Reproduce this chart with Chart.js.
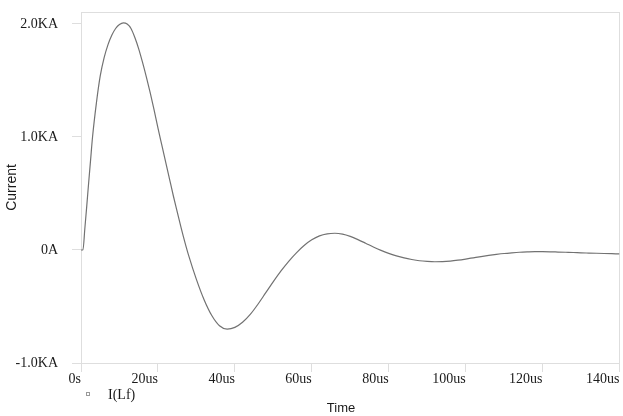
<!DOCTYPE html>
<html>
<head>
<meta charset="utf-8">
<script src="https://cdn.jsdelivr.net/npm/chart.js@4.4.1/dist/chart.umd.min.js"></script>
<style>
  html, body { margin: 0; padding: 0; background: #fff; }
</style>
</head>
<body>
<canvas id="chart" width="623" height="416"></canvas>
<script>
// Time axis (us) and current (KA)
const timeUs = [0, 0.5, 1, 1.5, 2, 2.5, 3,
  4, 5, 6, 7, 8, 9, 10, 11, 12, 13, 14, 15, 16, 17, 18, 19, 20, 21, 22, 23, 24, 25, 26, 27, 28,
  30, 32, 34, 36, 38, 40, 42, 44, 46, 48, 50, 52, 54, 56, 58, 60, 62, 64, 66, 68, 70, 72, 74, 76, 78, 80,
  82, 84, 86, 88, 90, 92, 94, 96, 98, 100, 102, 104, 106, 108, 110, 112, 114, 116, 118, 120,
  122, 124, 126, 128, 130, 132, 134, 136, 138, 140];
const currentKA = [0, 0, 0.19, 0.39, 0.60, 0.80, 1.00,
  1.30, 1.54, 1.70, 1.815, 1.90, 1.96, 1.995, 2.01, 2.00, 1.96, 1.88, 1.78, 1.66, 1.53, 1.39, 1.24, 1.08, 0.93, 0.78, 0.63, 0.48, 0.34, 0.20, 0.07, -0.05,
  -0.26, -0.44, -0.58, -0.67, -0.70, -0.685, -0.64, -0.57, -0.48, -0.38, -0.28, -0.185, -0.10, -0.025, 0.04, 0.09, 0.125, 0.143, 0.148, 0.14, 0.12, 0.092, 0.06, 0.027, -0.003, -0.03,
  -0.052, -0.07, -0.084, -0.095, -0.101, -0.104, -0.103, -0.098, -0.09, -0.08, -0.069, -0.058, -0.048, -0.039, -0.031, -0.025, -0.02, -0.017, -0.015, -0.015,
  -0.016, -0.018, -0.02, -0.022, -0.025, -0.027, -0.029, -0.031, -0.033, -0.035];

const xTicks = [0, 20, 40, 60, 80, 100, 120, 140];
const yTicks = [-1, 0, 1, 2];
const seriesLabel = 'I(Lf)';
const xTitle = 'Time';
const yTitle = 'Current';

const serif = '"Liberation Serif", "Times New Roman", serif';
const sans = '"Liberation Sans", Arial, sans-serif';
const textColor = '#1a1a1a';
const frameColor = '#dedede';

// light frame round the plot area
const framePlugin = {
  id: 'frame',
  beforeDatasetsDraw(chart) {
    const { ctx, chartArea: a } = chart;
    ctx.save();
    ctx.strokeStyle = frameColor;
    ctx.lineWidth = 1;
    ctx.strokeRect(Math.round(a.left) + 0.5, Math.round(a.top) + 0.5,
      Math.round(a.right - a.left) - 1, Math.round(a.bottom - a.top));
    ctx.restore();
  }
};

// small legend under the x tick labels, and the x title below it
const legendPlugin = {
  id: 'smallLegend',
  afterDraw(chart) {
    const { ctx } = chart;
    ctx.save();
    ctx.strokeStyle = '#9a9a9a';
    ctx.lineWidth = 1;
    ctx.strokeRect(86.5, 392.5, 3, 3);
    ctx.fillStyle = textColor;
    ctx.font = '14px ' + serif;
    ctx.textBaseline = 'middle';
    ctx.fillText(chart.data.datasets[0].label, 108, 395);
    ctx.font = '13px ' + sans;
    ctx.textAlign = 'center';
    ctx.fillText(xTitle, 341, 408);
    ctx.restore();
  }
};

// fixed scale sizes so the plot area sits where it does in the original
function fixScale(size) {
  return (s) => {
    if (s.isHorizontal()) s.height = size; else s.width = size;
    s.paddingTop = 0;
    s.paddingBottom = 0;
    s.paddingLeft = 0;
    s.paddingRight = 0;
  };
}

new Chart(document.getElementById('chart'), {
  type: 'line',
  data: {
    datasets: [{
      label: seriesLabel,
      data: timeUs.map((t, i) => ({ x: t, y: currentKA[i] })),
      borderColor: '#727272',
      borderWidth: 1.2,
      pointRadius: 0,
      fill: false,
      cubicInterpolationMode: 'monotone'
    }]
  },
  options: {
    responsive: false,
    animation: false,
    layout: { padding: { top: 12, right: 3.5, left: 0, bottom: 0 } },
    plugins: {
      legend: { display: false },
      tooltip: { enabled: false }
    },
    scales: {
      x: {
        type: 'linear',
        min: 0,
        max: 140,
        afterBuildTicks: (s) => { s.ticks = xTicks.map(v => ({ value: v })); },
        afterFit: fixScale(53),
        grid: { drawOnChartArea: false, color: frameColor, tickLength: 9 },
        border: { display: true, color: frameColor },
        ticks: {
          align: 'end',
          padding: 0,
          color: textColor,
          font: { family: serif, size: 14, lineHeight: 1 },
          maxRotation: 0,
          callback: (v) => v === 0 ? '0s' : v + 'us'
        }
      },
      y: {
        type: 'linear',
        min: -1,
        max: 2.106,
        afterBuildTicks: (s) => { s.ticks = yTicks.map(v => ({ value: v })); },
        afterFit: fixScale(81),
        grid: { drawOnChartArea: false, color: frameColor, tickLength: 9 },
        border: { display: true, color: frameColor },
        ticks: {
          padding: 14,
          color: textColor,
          font: { family: serif, size: 14 },
          callback: (v) => v === 0 ? '0A' : v.toFixed(1) + 'KA'
        },
        title: {
          display: true,
          text: yTitle,
          color: textColor,
          font: { family: sans, size: 14 },
          padding: { top: 4, bottom: 0 }
        }
      }
    }
  },
  plugins: [framePlugin, legendPlugin]
});
</script>
</body>
</html>
